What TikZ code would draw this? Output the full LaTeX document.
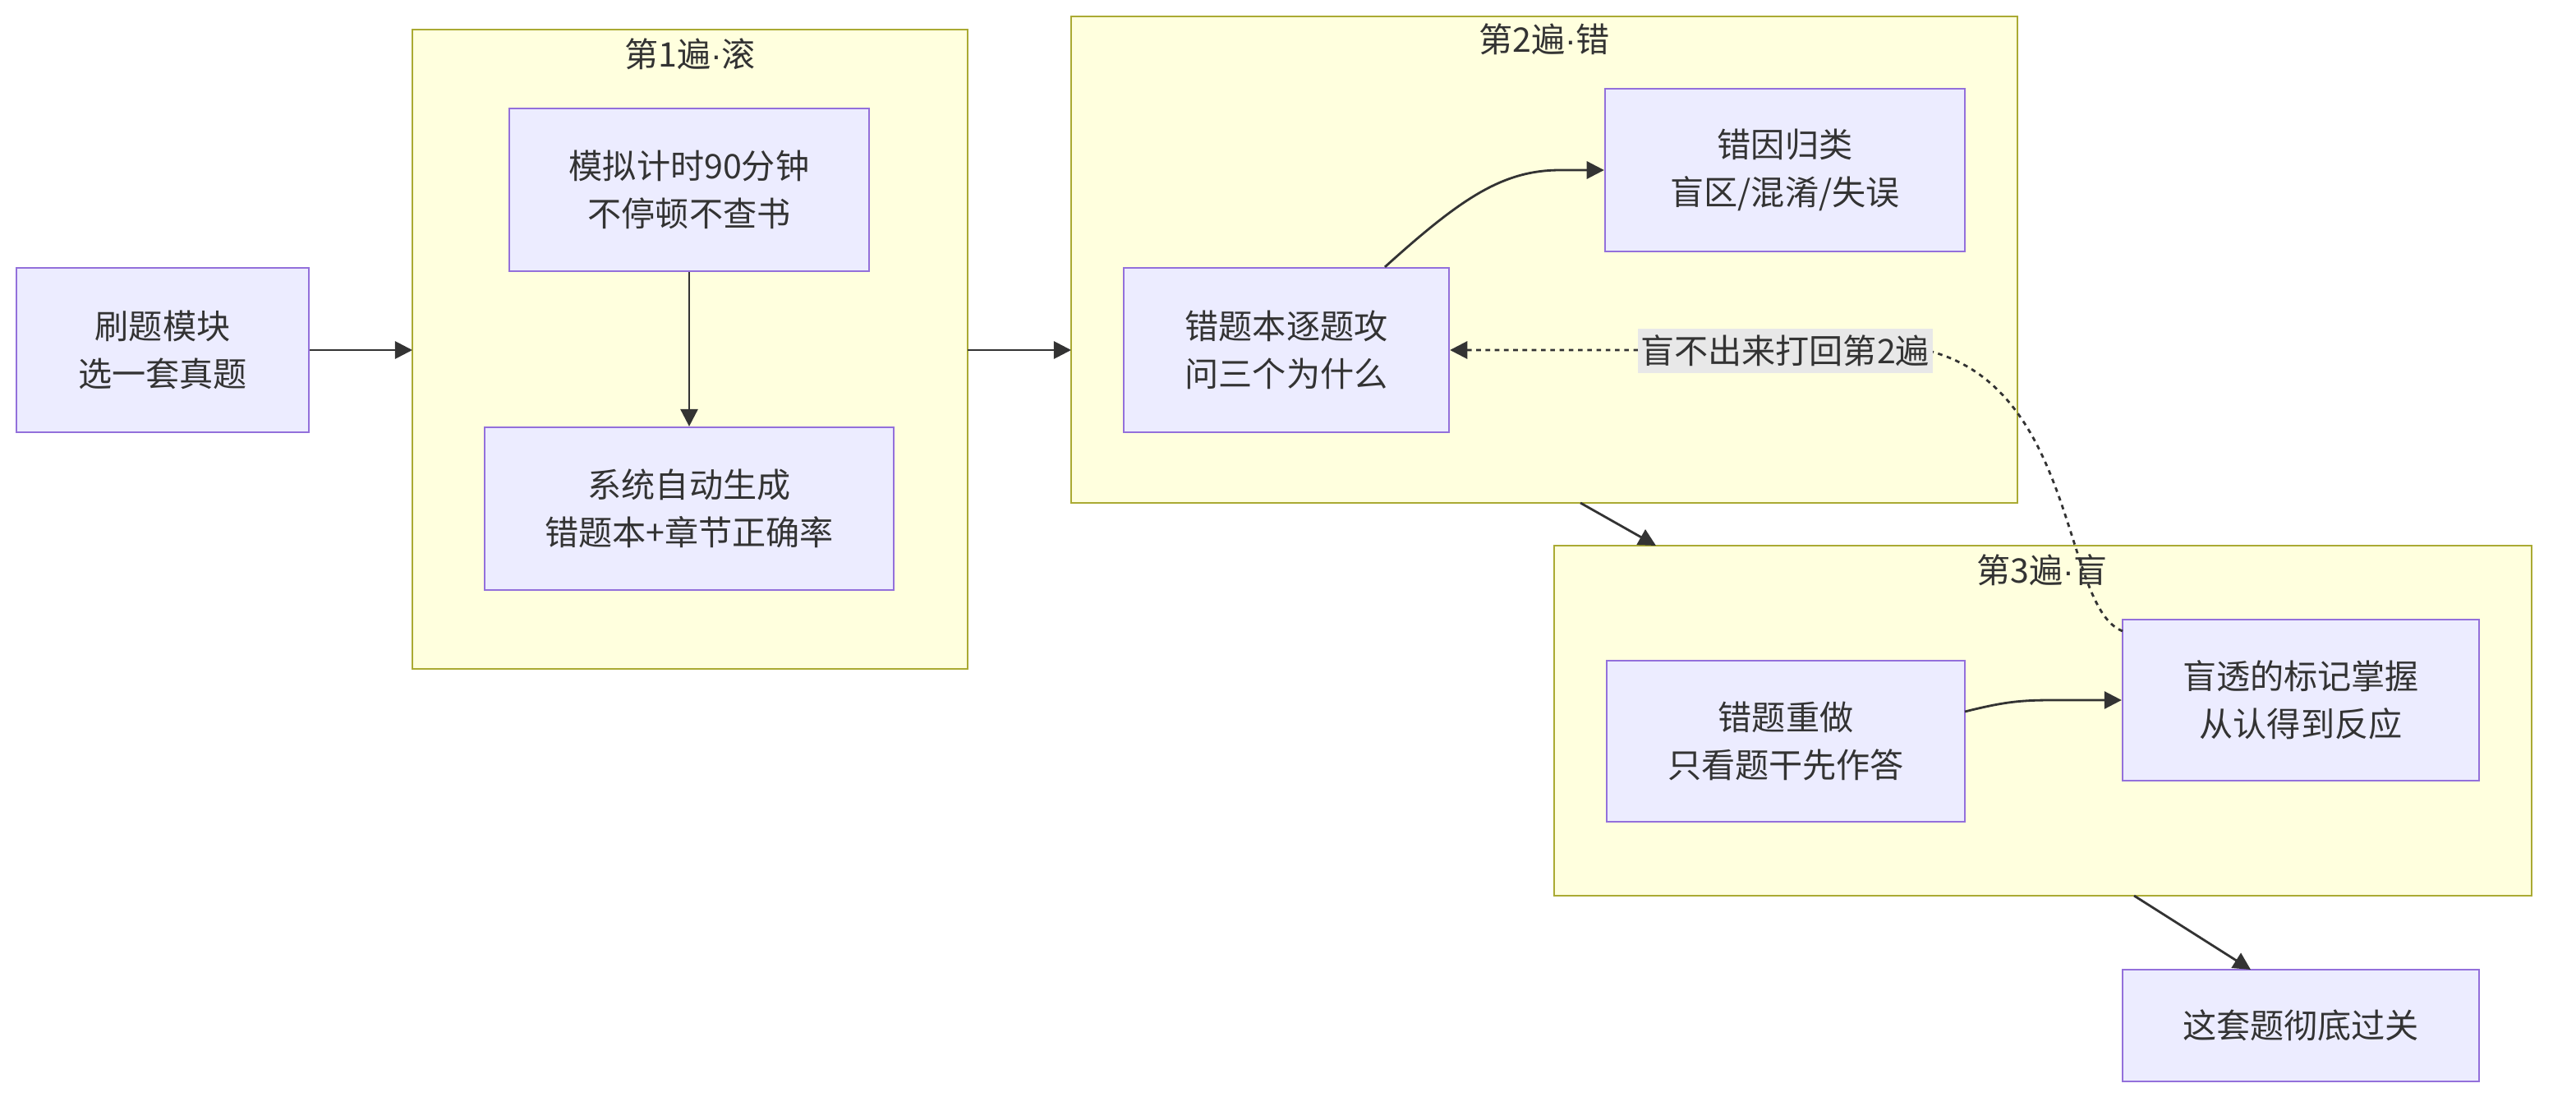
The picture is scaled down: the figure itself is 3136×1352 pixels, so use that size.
\documentclass[tikz,border=0pt]{standalone}
\usepackage{fontspec}
\newfontfamily\cjk{Noto Sans CJK SC}
\newfontfamily\latdot{Liberation Sans}
\newcommand{\mdot}{{\latdot ·}}
\usetikzlibrary{arrows.meta}
\definecolor{nodefill}{HTML}{ECECFF}
\definecolor{nodeline}{HTML}{9370DB}
\definecolor{clfill}{HTML}{FFFFDE}
\definecolor{clline}{HTML}{AAAA33}
\definecolor{txt}{HTML}{333333}
\definecolor{lblbg}{HTML}{E8E8E8}
\tikzset{
  box/.style={draw=nodeline, fill=nodefill, line width=0.6pt, align=center, text=txt,
    font=\cjk\fontsize{11.7}{16.5}\selectfont, inner sep=0pt},
  cluster/.style={draw=clline, fill=clfill, line width=0.6pt},
  cltitle/.style={text=txt, font=\cjk\fontsize{11.7}{14}\selectfont, inner sep=0pt},
  conn/.style={draw=txt, line width=0.8pt, -{Triangle[length=6pt,width=6pt]}},
  dotconn/.style={draw=txt, line width=0.8pt, dash pattern=on 1.6pt off 1.6pt, -{Triangle[length=6pt,width=6pt]}},
  lbl/.style={fill=lblbg, text=txt, font=\cjk\fontsize{11.7}{14}\selectfont, inner sep=1pt, minimum height=0.54cm}
}
\begin{document}
\begin{tikzpicture}[x=0.01cm, y=-0.01cm]
\useasboundingbox[fill=white] (0,0) rectangle (3136,1352);
% clusters
\draw[cluster] (502,36) rectangle (1178,814);
\coordinate (cl1w) at (502,426);
\coordinate (cl1e) at (1178,426);
\node[cltitle] (t1) at (840,66) {第1遍\mdot 滚};
\draw[cluster] (1304,20) rectangle (2456,612);
\coordinate (cl2w) at (1304,426);
\coordinate (cl2s) at (1924,612);
\node[cltitle] (t2) at (1880,48) {第2遍\mdot 错};
\draw[cluster] (1892,664) rectangle (3082,1090);
\coordinate (cl3n) at (2016,664);
\coordinate (cl3s) at (2598,1090);
\node[cltitle] (t3) at (2486,694) {第3遍\mdot 盲};
% nodes
\node[box, minimum width=3.56cm, minimum height=2.00cm] (A) at (198,426) {刷题模块\\选一套真题};
\node[box, minimum width=4.38cm, minimum height=1.98cm] (B1) at (839,231) {模拟计时90分钟\\不停顿不查书};
\node[box, minimum width=4.98cm, minimum height=1.98cm] (B2) at (839,619) {系统自动生成\\错题本+章节正确率};
\node[box, minimum width=3.96cm, minimum height=2.00cm] (C1) at (1566,426) {错题本逐题攻\\问三个为什么};
\node[box, minimum width=4.38cm, minimum height=1.98cm] (C2) at (2173,207) {错因归类\\盲区/混淆/失误};
\node[box, minimum width=4.36cm, minimum height=1.96cm] (D1) at (2174,902) {错题重做\\只看题干先作答};
\node[box, minimum width=4.34cm, minimum height=1.96cm] (D2) at (2801,852) {盲透的标记掌握\\从认得到反应};
\node[box, minimum width=4.34cm, minimum height=1.36cm] (E) at (2801,1248) {这套题彻底过关};
% connectors
\draw[conn] (A.east) -- (cl1w);
\draw[conn] (B1.south) -- (B2.north);
\draw[conn] (cl1e) -- (cl2w);
\draw[conn] (C1.north -| 1686,0) .. controls (1780,240) and (1830,207) .. (1900,207) -- (C2.west);
\draw[conn] (cl2s) -- (cl3n);
\draw[conn] (2392,866) .. controls (2440,854) and (2460,852) .. (2500,852) -- (D2.west);
\draw[conn] (cl3s) -- (2740,1180);
\coordinate (dstart) at (2584,768);
\draw[dotconn] (dstart) .. controls (2510,740) and (2530,470) .. (2344,426) -- (C1.east);
\node[lbl] (L) at (2173,427) {盲不出来打回第2遍};
\end{tikzpicture}
\end{document}
